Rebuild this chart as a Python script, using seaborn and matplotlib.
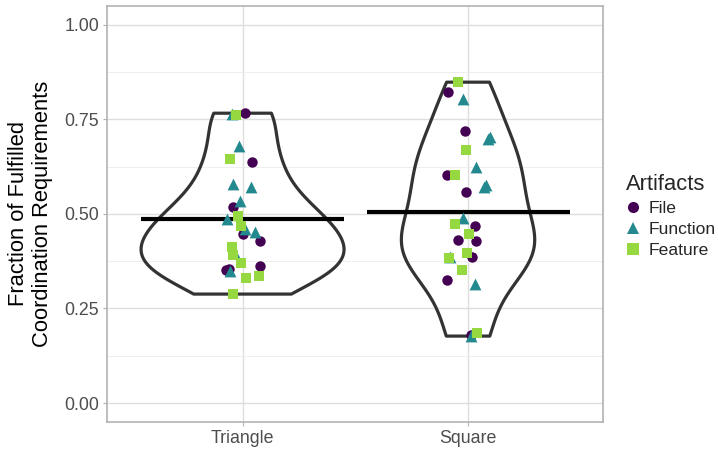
import numpy as np
import pandas as pd
import matplotlib
matplotlib.use("Agg")
import matplotlib.pyplot as plt
from matplotlib.lines import Line2D
from matplotlib.ticker import MultipleLocator
import seaborn as sns

#####################################################################
# Data
shapes = ["Triangle", "Square"]
artifacts = ["File", "Function", "Feature"]

triangle_file = [0.766, 0.637, 0.519, 0.447, 0.427, 0.363, 0.351, 0.355]
triangle_function = [0.765, 0.678, 0.579, 0.570, 0.533, 0.486, 0.459, 0.453, 0.398, 0.350]
triangle_feature = [0.762, 0.645, 0.495, 0.468, 0.413, 0.392, 0.369, 0.335, 0.330, 0.288]

square_file = [0.821, 0.720, 0.603, 0.559, 0.469, 0.431, 0.427, 0.385, 0.324, 0.180]
square_function = [0.803, 0.698, 0.703, 0.624, 0.577, 0.572, 0.490, 0.385, 0.315, 0.177]
square_feature = [0.848, 0.669, 0.603, 0.472, 0.447, 0.383, 0.396, 0.352, 0.186]

colors = {"File": "#440154", "Function": "#23898E", "Feature": "#95D840"}
markers = {"File": "o", "Function": "^", "Feature": "s"}
sizes = {"File": 7.5, "Function": 8.5, "Feature": 7.5}

#####################################################################
# Long table
groups = {
    ("Triangle", "File"): triangle_file,
    ("Triangle", "Function"): triangle_function,
    ("Triangle", "Feature"): triangle_feature,
    ("Square", "File"): square_file,
    ("Square", "Function"): square_function,
    ("Square", "Feature"): square_feature,
}
rows = []
for (shape, art), vals in groups.items():
    for v in vals:
        rows.append({"Shape": shape, "Artifact": art, "Fraction": v})
df = pd.DataFrame(rows)

#####################################################################
sns.set_style("white")
plt.rcParams["font.family"] = ["Liberation Sans", "DejaVu Sans"]

fig = plt.figure(figsize=(7.18, 4.54), dpi=100)
ax = fig.add_axes([0.1494, 0.0705, 0.6909, 0.9169])

sns.violinplot(data=df, x="Shape", y="Fraction", order=shapes, ax=ax,
               cut=0, density_norm="area", width=0.9, inner=None, fill=False,
               color="#333333", linecolor="#333333", linewidth=2.3,
               bw_method="silverman", bw_adjust=0.85, zorder=3)

# mean bar per shape
means = df.groupby("Shape")["Fraction"].mean()
for i, s in enumerate(shapes):
    ax.hlines(means[s], i - 0.45, i + 0.45, color="black", linewidth=3.0, zorder=4)

# jittered points
np.random.seed(3)
for art in artifacts:
    sub = df[df["Artifact"] == art]
    sns.stripplot(data=sub, x="Shape", y="Fraction", order=shapes, ax=ax,
                  jitter=0.1, marker=markers[art], color=colors[art],
                  size=sizes[art], linewidth=0, zorder=5)

#####################################################################
# ggplot theme_light look
ax.set_xlim(-0.6, 1.6)
ax.set_ylim(-0.05, 1.05)
ax.set_yticks([0, 0.25, 0.5, 0.75, 1.0])
ax.set_yticklabels(["0.00", "0.25", "0.50", "0.75", "1.00"])
ax.yaxis.set_minor_locator(MultipleLocator(0.125))
ax.grid(which="major", color="#DEDEDE", linewidth=1.0, zorder=0)
ax.grid(which="minor", axis="y", color="#EBEBEB", linewidth=0.6, zorder=0)
ax.set_axisbelow(True)
for sp in ax.spines.values():
    sp.set_visible(True)
    sp.set_color("#B3B3B3")
    sp.set_linewidth(1.2)
ax.tick_params(axis="both", which="major", length=3, color="#B3B3B3",
               labelsize=12.8, labelcolor="#4D4D4D", pad=3, direction="out",
               left=True, bottom=True)
ax.tick_params(axis="y", which="minor", length=0)

ax.set_xlabel("")
ax.set_ylabel("Fraction of Fulfilled\nCoordination Requirements", fontsize=15.8,
              color="black", labelpad=8)

handles = [Line2D([], [], linestyle="none", marker=markers[a], color=colors[a],
                  markersize=sizes[a] + 0.5, markeredgewidth=0) for a in artifacts]
leg = fig.legend(handles, artifacts, title="Artifacts", loc="center left",
                 bbox_to_anchor=(0.862, 0.525), frameon=False, fontsize=12.6,
                 title_fontsize=15.8, handlelength=0.8, handletextpad=0.5,
                 labelspacing=0.33, borderaxespad=0)
leg._legend_box.align = "left"

fig.savefig("out.png", dpi=100)
